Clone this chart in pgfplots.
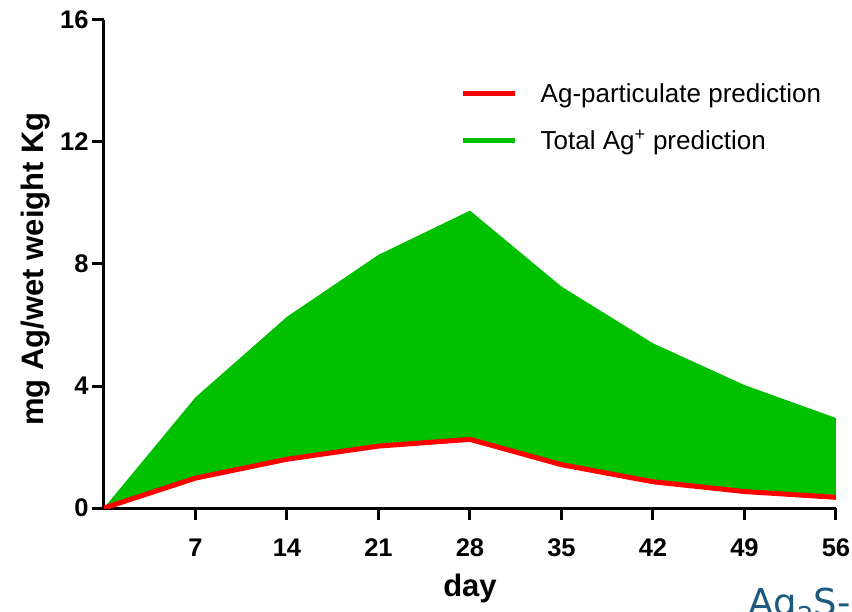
\documentclass[border=0pt]{standalone}
\usepackage{pgfplots}
\pgfplotsset{compat=1.18}
\usepackage{fontspec}
\setmainfont{Liberation Sans}
\newfontfamily\dejavu{DejaVu Sans}
\definecolor{agred}{RGB}{255,0,0}
\definecolor{aggreen}{RGB}{0,192,0}
\definecolor{tealtxt}{RGB}{30,90,125}
\begin{document}
\begin{tikzpicture}[x=1pt,y=1pt]
\useasboundingbox (0,0) rectangle (852,611);
\begin{axis}[
  at={(104pt,103pt)}, anchor=south west,
  scale only axis, width=732pt, height=488pt,
  xmin=0, xmax=56, ymin=0, ymax=16,
  axis x line*=bottom, axis y line*=left,
  axis line style={line width=3pt, -},
  xtick={7,14,...,56}, ytick={0,4,8,12,16},
  tick style={line width=3pt, black},
  major tick length=12pt,
  xtick align=outside, ytick align=outside,
  tick label style={font=\fontsize{25.5}{25.5}\selectfont\bfseries},
  xticklabel style={yshift=-15pt},
  /pgf/number format/assume math mode=true,
  xlabel={day},
  ylabel={mg Ag/wet weight Kg},
  label style={font=\fontsize{31}{31}\selectfont\bfseries},
  xlabel style={at={(axis description cs:0.5,-0.164)}, anchor=center},
  ylabel style={at={(axis description cs:-0.094,0.49)}, anchor=center},
  legend style={at={(axis description cs:0.482,0.878)}, anchor=north west,
    draw=none, fill=none, font=\fontsize{26}{30}\selectfont, row sep=22pt},
  legend cell align=left,
  legend image code/.code={\draw[#1,line width=5pt] (0pt,0pt) -- (52pt,0pt); \path (76pt,0pt);},
]
\addplot[draw=none, fill=aggreen, forget plot] coordinates {
  (0,0) (7,3.63) (14,6.27) (21,8.3) (28,9.75) (35,7.26) (42,5.4) (49,4.03) (56,2.95)
  (56,0.35) (49,0.54) (42,0.86) (35,1.42) (28,2.25) (21,2.03) (14,1.6) (7,0.98) (0,0)
};
\addplot[agred, line width=5pt, forget plot] coordinates {
  (0,0) (7,0.98) (14,1.6) (21,2.03) (28,2.25) (35,1.42) (42,0.86) (49,0.54) (56,0.35)
};
\addlegendimage{agred}
\addlegendentry{Ag-particulate prediction}
\addlegendimage{aggreen}
\addlegendentry{Total Ag\textsuperscript{+} prediction}
\end{axis}
\node[anchor=base west, font=\dejavu\fontsize{37}{37}\selectfont, text=tealtxt, inner sep=0pt] at (748,-4) {Ag\textsubscript{2}S-};
\end{tikzpicture}
\end{document}
